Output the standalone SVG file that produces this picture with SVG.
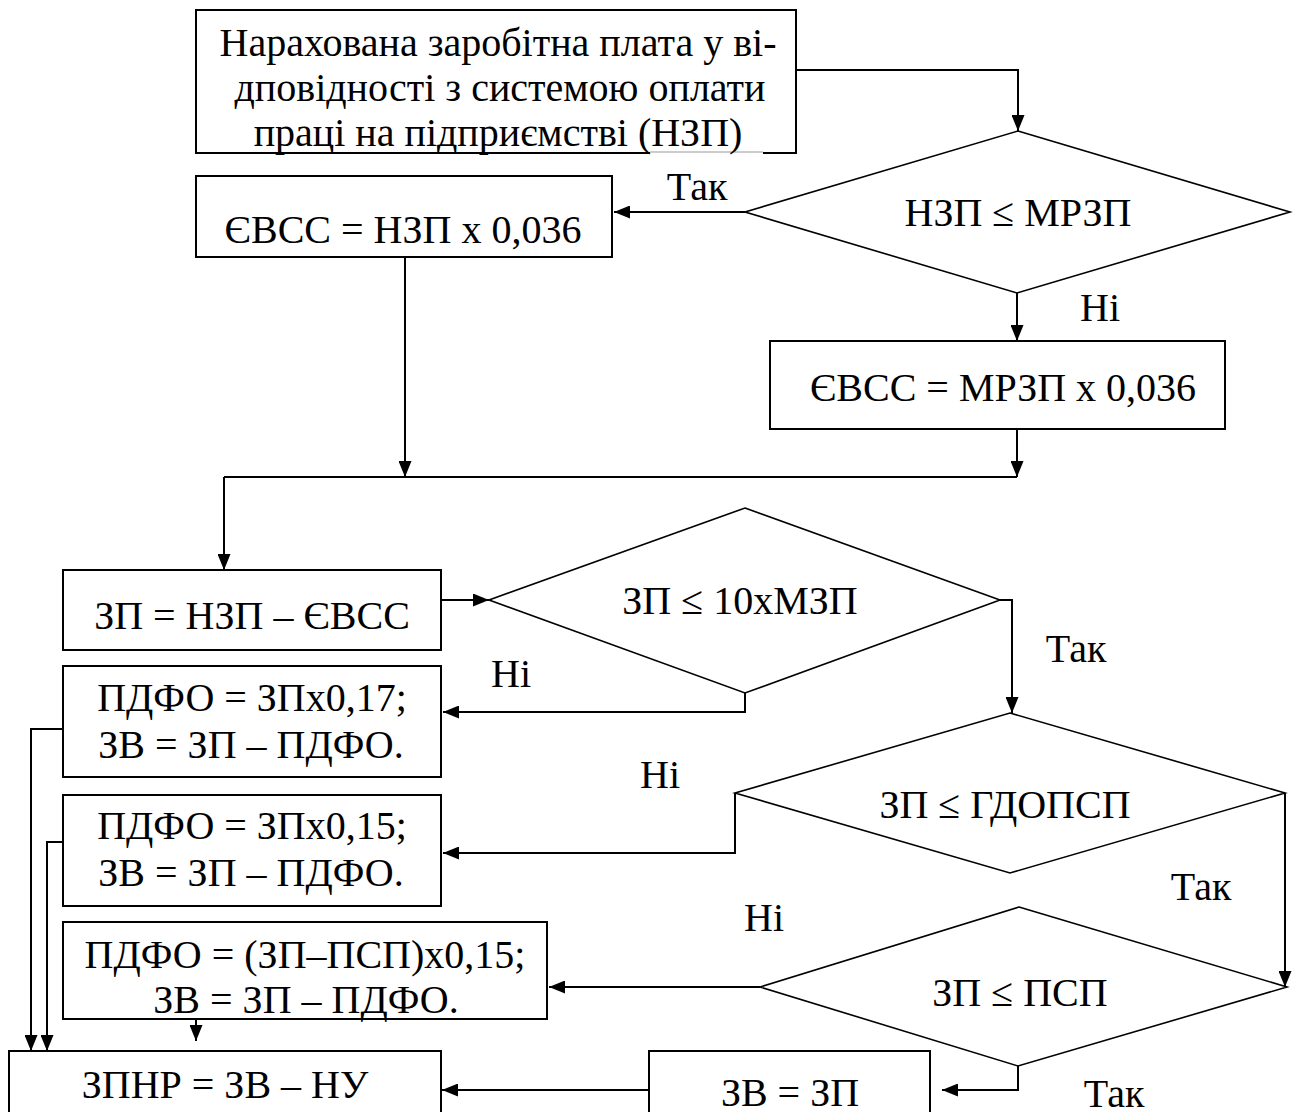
<svg xmlns="http://www.w3.org/2000/svg" width="1295" height="1112" viewBox="0 0 1295 1112">
<style>
  .box { fill: #fff; stroke: #000; stroke-width: 2; }
  .dia { fill: #fff; stroke: #000; stroke-width: 1.6; }
  .t { font-family: "Liberation Serif", "Times New Roman", serif; font-size: 40px; fill: #000; text-anchor: middle; }
  .c { fill: none; stroke: #000; stroke-width: 2; }
  .ca { fill: none; stroke: #000; stroke-width: 2; marker-end: url(#ah); }
</style>
<defs>
  <marker id="ah" markerWidth="16" markerHeight="13" refX="16" refY="6.5" orient="auto" markerUnits="userSpaceOnUse">
    <path d="M0,0 L16,6.5 L0,13 z" fill="#000"/>
  </marker>
</defs>
<rect width="1295" height="1112" fill="#fff"/>

<g id="connectors">
  <path class="ca" d="M796,70 H1018 V131"/>
  <path class="ca" d="M745,212 H614" stroke-width="3"/>
  <path class="ca" d="M405,257 V477"/>
  <path class="ca" d="M1017,293 V341"/>
  <path class="ca" d="M1017,429 V477"/>
  <path class="c" d="M224,477 H1017"/>
  <path class="ca" d="M224,477 V570"/>
  <path class="ca" d="M441,600 H489"/>
  <path class="ca" d="M1000,600 H1012 V713"/>
  <path class="ca" d="M745,693 V712 H443"/>
  <path class="ca" d="M735,793 V853 H443"/>
  <path class="ca" d="M1285,793 V987"/>
  <path class="ca" d="M760,987 H549"/>
  <path class="ca" d="M1018,1066 V1090 H942"/>
  <path class="ca" d="M649,1090 H442"/>
  <path class="ca" d="M63,729 H31 V1051"/>
  <path class="ca" d="M63,842 H47 V1051"/>
  <path class="ca" d="M196,1019 V1041"/>
</g>

<g id="start">
  <rect class="box" x="196" y="10" width="600" height="143"/>
  <line x1="650" y1="153" x2="763" y2="153" stroke="#fff" stroke-width="3"/>
  <line x1="650" y1="152" x2="763" y2="152" stroke="#999" stroke-width="1"/>
  <text class="t" x="498" y="56">Нарахована заробітна плата у ві-</text>
  <text class="t" x="500" y="101">дповідності з системою оплати</text>
  <text class="t" x="498" y="146">праці на підприємстві (НЗП)</text>
</g>

<g id="d1">
  <polygon class="dia" points="1018,131 1290,212 1017,293 745,212"/>
  <text class="t" x="1018" y="226">НЗП ≤ МРЗП</text>
</g>
<text class="t" x="697" y="200">Так</text>
<text class="t" x="1100" y="321">Ні</text>

<g id="b1">
  <rect class="box" x="196" y="176" width="416" height="81"/>
  <text class="t" x="403" y="243">ЄВСС = НЗП x 0,036</text>
</g>

<g id="b2">
  <rect class="box" x="770" y="341" width="455" height="88"/>
  <text class="t" x="1003" y="401">ЄВСС = МРЗП x 0,036</text>
</g>

<g id="b3">
  <rect class="box" x="63" y="570" width="378" height="80"/>
  <text class="t" x="252" y="629">ЗП = НЗП – ЄВСС</text>
</g>

<g id="d3">
  <polygon class="dia" points="745,508 1000,600 745,693 489,600"/>
  <text class="t" x="740" y="614">ЗП ≤ 10хМЗП</text>
</g>
<text class="t" x="1076" y="662">Так</text>
<text class="t" x="511" y="687">Ні</text>

<g id="b4">
  <rect class="box" x="63" y="666" width="378" height="111"/>
  <text class="t" x="252" y="711">ПДФО = ЗПх0,17;</text>
  <text class="t" x="251" y="758">ЗВ = ЗП – ПДФО.</text>
</g>

<g id="d4">
  <polygon class="dia" points="1010,713 1285,793 1010,873 735,793"/>
  <text class="t" x="1005" y="818">ЗП ≤ ГДОПСП</text>
</g>
<text class="t" x="660" y="788">Ні</text>
<text class="t" x="1201" y="900">Так</text>

<g id="b5">
  <rect class="box" x="63" y="795" width="378" height="111"/>
  <text class="t" x="252" y="839">ПДФО = ЗПх0,15;</text>
  <text class="t" x="251" y="886">ЗВ = ЗП – ПДФО.</text>
</g>

<g id="d5">
  <polygon class="dia" points="1019,907 1287,987 1018,1066 760,987"/>
  <text class="t" x="1020" y="1006">ЗП ≤ ПСП</text>
</g>
<text class="t" x="764" y="931">Ні</text>
<text class="t" x="1114" y="1107">Так</text>

<g id="b6">
  <rect class="box" x="63" y="922" width="484" height="97"/>
  <text class="t" x="305" y="968">ПДФО = (ЗП–ПСП)х0,15;</text>
  <text class="t" x="306" y="1013">ЗВ = ЗП – ПДФО.</text>
</g>

<g id="b7">
  <rect class="box" x="649" y="1051" width="281" height="80"/>
  <text class="t" x="790" y="1106">ЗВ = ЗП</text>
</g>

<g id="b8">
  <rect class="box" x="9" y="1051" width="432" height="80"/>
  <text class="t" x="225" y="1098">ЗПНР = ЗВ – НУ</text>
</g>
</svg>
